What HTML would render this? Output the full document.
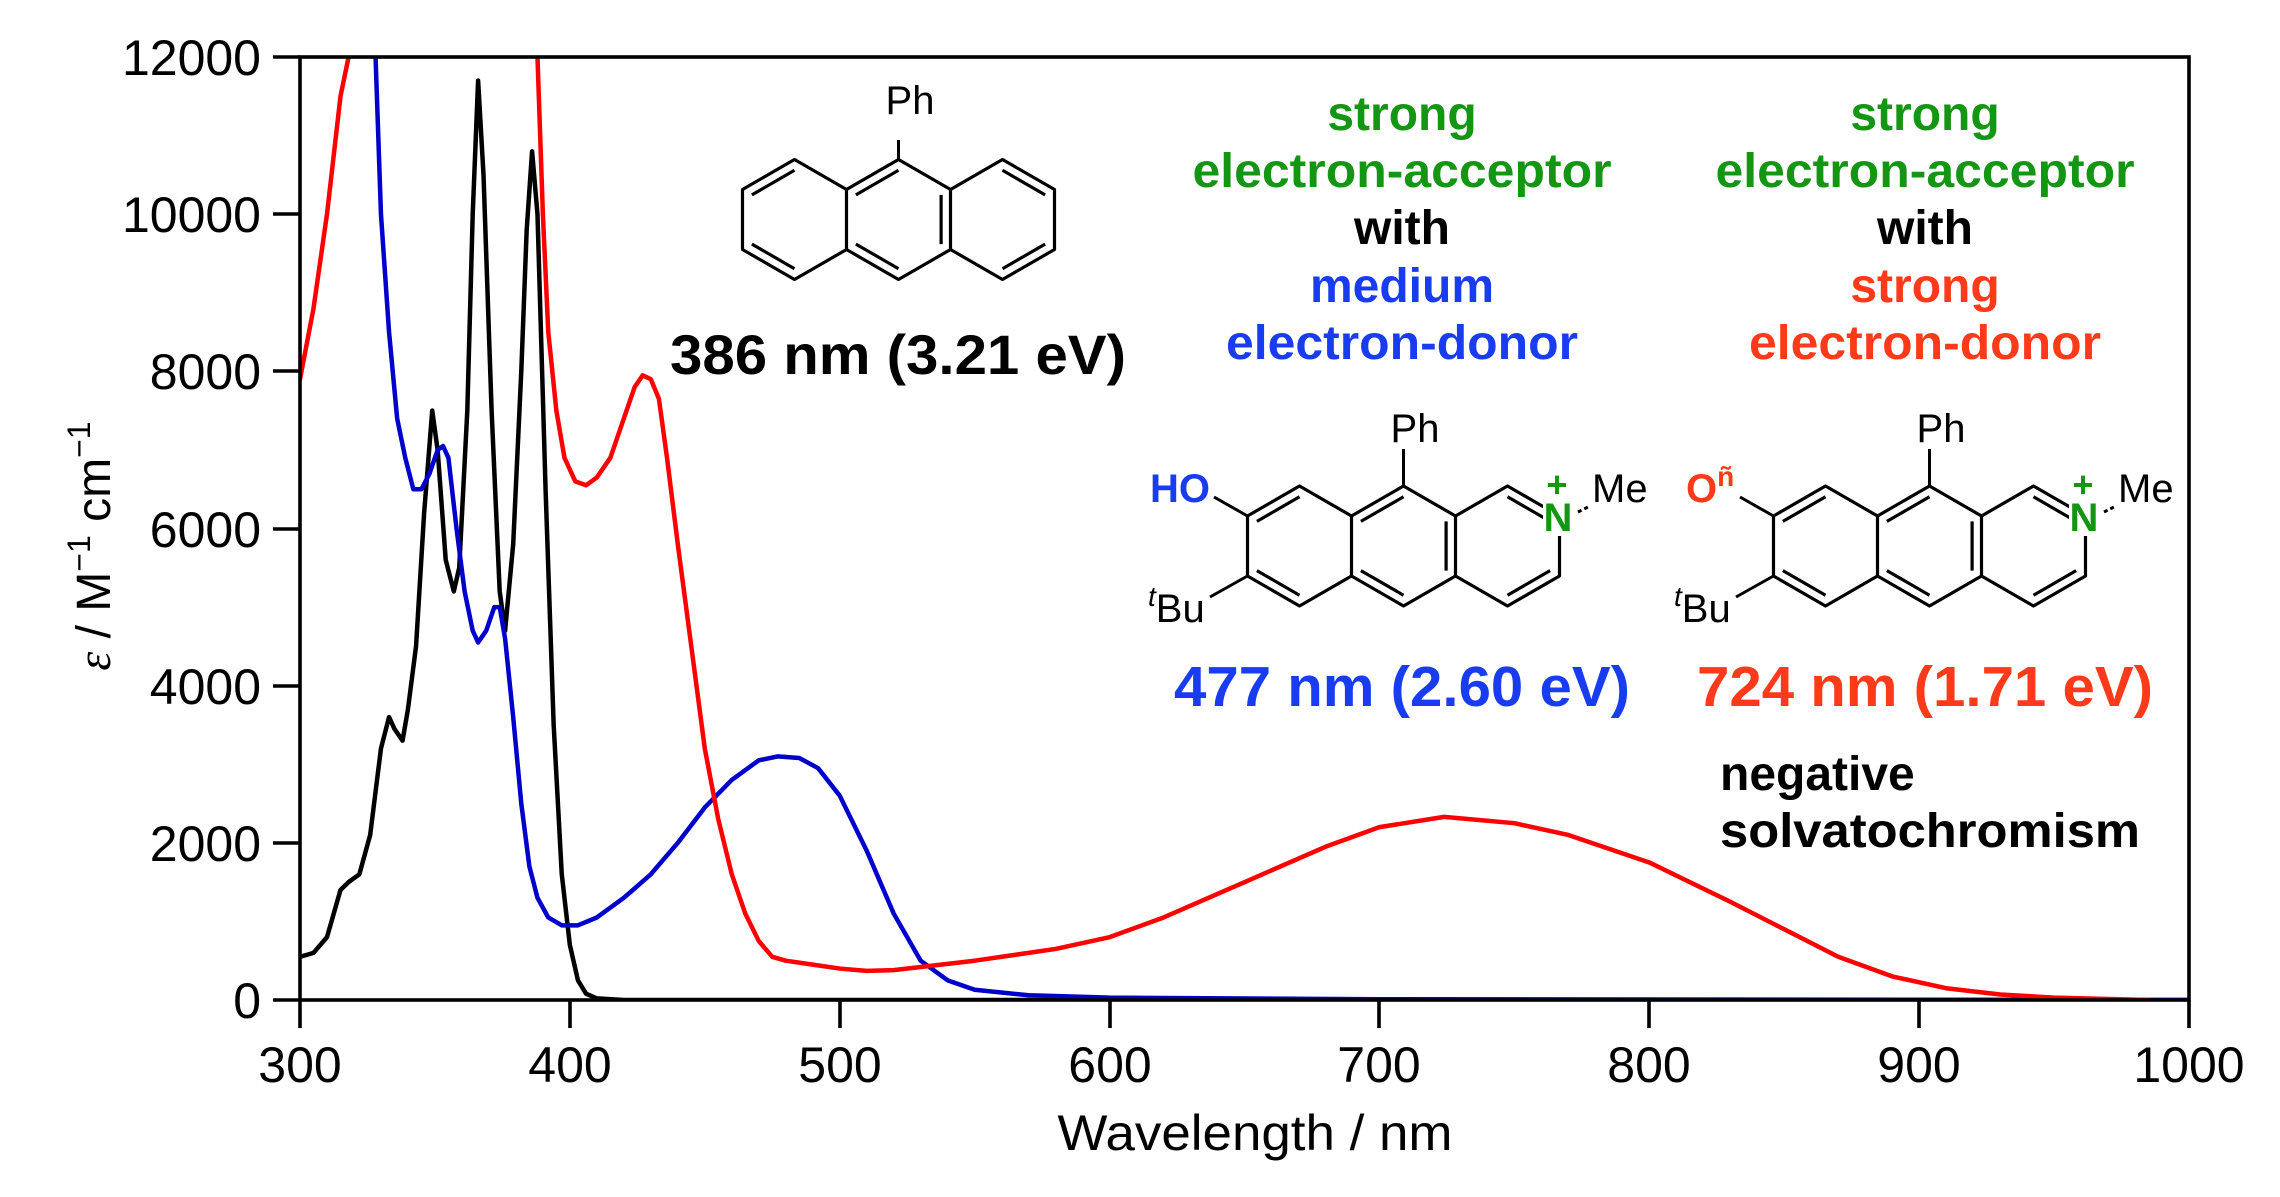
<!DOCTYPE html>
<html><head><meta charset="utf-8"><style>
html,body{margin:0;padding:0;background:#fff;}
svg{display:block;font-family:"Liberation Sans",sans-serif;}
</style></head><body>
<svg width="2280" height="1197" viewBox="0 0 2280 1197" xmlns="http://www.w3.org/2000/svg">
<defs>
<clipPath id="pc"><rect x="300" y="57" width="1889" height="943"/></clipPath>
<g id="tri" fill="none" stroke="#000" stroke-width="3.2" stroke-linejoin="round">
<path d="M-156,-30 L-104,-60 L-52,-30 L-52,30 L-104,60 L-156,30 Z M-52,-30 L0,-60 L52,-30 L52,30 L0,60 L-52,30 M52,-30 L104,-60 L156,-30 L156,30 L104,60 L52,30"/>
<path d="M-146.6,-24.6 L-104,-49.2 M-146.6,24.6 L-104,49.2 M-42.6,-24.6 L0,-49.2 M-42.6,24.6 L0,49.2 M42.6,-24.6 L42.6,24.6 M104,-49.2 L146.6,-24.6 M104,49.2 L146.6,24.6"/>
</g>
</defs>
<!-- data -->
<g clip-path="url(#pc)">
<g transform="translate(-509.58,1000) scale(2.6986,-0.07858)" fill="none" stroke-width="4.5" stroke-linejoin="round" stroke-linecap="round">
<polyline vector-effect="non-scaling-stroke" stroke="#000" points="300,550 305,600 310,800 315,1400 318,1500 322,1600 326,2100 330,3200 333,3600 335,3450 338,3300 340,3700 343,4500 346,6200 349,7500 351,7000 354,5600 357,5200 359,5500 362,7500 364,10000 366,11700 368,10500 371,7500 374,5200 376,4700 379,5800 382,8000 384,9800 386,10800 388,10000 391,6500 394,3500 397,1600 400,700 403,250 406,80 410,20 420,0 1000,0"/>
<polyline vector-effect="non-scaling-stroke" stroke="#0000cc" points="327,13000 328,12000 330,10000 333,8500 336,7400 339,6900 342,6500 345,6500 348,6700 351,7000 353,7050 355,6900 358,6000 361,5200 364,4700 366,4550 369,4700 372,5000 374,5000 376,4600 379,3600 382,2500 385,1700 388,1300 392,1050 397,950 403,950 410,1050 420,1300 430,1600 440,2000 450,2450 460,2800 470,3050 477,3100 485,3080 492,2950 500,2600 510,1900 520,1100 530,500 540,250 550,130 570,60 600,30 700,10 1000,0"/>
<polyline vector-effect="non-scaling-stroke" stroke="#ff0000" points="300,7900 305,8800 310,10000 315,11500 318,12000 319,13000"/>
<polyline vector-effect="non-scaling-stroke" stroke="#ff0000" points="387.5,13000 388,12000 390,10000 392,8500 395,7500 398,6900 402,6600 406,6550 410,6650 415,6900 420,7400 424,7800 427,7950 430,7900 433,7650 436,6900 440,5800 445,4500 450,3200 455,2300 460,1600 465,1100 470,750 475,550 480,500 490,450 500,400 510,370 520,380 530,420 550,500 580,650 600,800 620,1050 650,1500 680,1950 700,2200 724,2330 750,2250 770,2100 800,1750 830,1250 850,900 870,550 890,300 910,150 930,70 950,30 985,0"/>
</g>
</g>
<!-- axes -->
<g stroke="#000" stroke-width="3.6" fill="none">
<rect x="300" y="57" width="1889" height="943"/>
<path d="M300,1000 V1028 M570,1000 V1028 M840,1000 V1028 M1110,1000 V1028 M1379,1000 V1028 M1649,1000 V1028 M1919,1000 V1028 M2189,1000 V1028"/>
<path d="M300,57 H273 M300,214 H273 M300,371 H273 M300,529 H273 M300,686 H273 M300,843 H273 M300,1000 H273"/>
</g>
<g font-size="50" fill="#000" text-anchor="end">
<text x="261" y="75">12000</text><text x="261" y="232">10000</text><text x="261" y="389">8000</text><text x="261" y="547">6000</text><text x="261" y="704">4000</text><text x="261" y="861">2000</text><text x="261" y="1018">0</text>
</g>
<g font-size="50" fill="#000" text-anchor="middle">
<text x="300" y="1082">300</text><text x="570" y="1082">400</text><text x="840" y="1082">500</text><text x="1110" y="1082">600</text><text x="1379" y="1082">700</text><text x="1649" y="1082">800</text><text x="1919" y="1082">900</text><text x="2189" y="1082">1000</text>
<text x="1255" y="1150" textLength="395" lengthAdjust="spacingAndGlyphs">Wavelength / nm</text>
</g>
<text transform="translate(110,546) rotate(-90)" font-size="48" text-anchor="middle"><tspan font-style="italic" font-family="'Liberation Serif',serif">ε</tspan> / M<tspan font-size="32" dy="-20">−1</tspan><tspan dy="20"> cm</tspan><tspan font-size="32" dy="-20">−1</tspan></text>
<!-- anthracene -->
<use href="#tri" transform="translate(898.5,219.5)"/>
<path d="M898.5,159.5 V140" stroke="#000" stroke-width="3"/>
<text x="910" y="114" font-size="40" text-anchor="middle">Ph</text>
<text x="898" y="374" font-size="56" font-weight="bold" text-anchor="middle" textLength="456" lengthAdjust="spacingAndGlyphs">386 nm (3.21 eV)</text>
<!-- annotations -->
<g font-size="48" font-weight="bold" text-anchor="middle">
<text x="1402" y="130" fill="#149614">strong</text>
<text x="1402" y="187" fill="#149614" textLength="419" lengthAdjust="spacingAndGlyphs">electron-acceptor</text>
<text x="1402" y="244" fill="#000">with</text>
<text x="1402" y="302" fill="#1a3cf0">medium</text>
<text x="1402" y="359" fill="#1a3cf0" textLength="352" lengthAdjust="spacingAndGlyphs">electron-donor</text>
<text x="1925" y="130" fill="#149614">strong</text>
<text x="1925" y="187" fill="#149614" textLength="419" lengthAdjust="spacingAndGlyphs">electron-acceptor</text>
<text x="1925" y="244" fill="#000">with</text>
<text x="1925" y="302" fill="#ff3a1a">strong</text>
<text x="1925" y="359" fill="#ff3a1a" textLength="352" lengthAdjust="spacingAndGlyphs">electron-donor</text>
</g>
<g font-size="57" font-weight="bold" text-anchor="middle">
<text x="1402" y="706" fill="#1a3cf0" textLength="456" lengthAdjust="spacingAndGlyphs">477 nm (2.60 eV)</text>
<text x="1925" y="706" fill="#ff3a1a" textLength="456" lengthAdjust="spacingAndGlyphs">724 nm (1.71 eV)</text>
</g>
<g font-size="48" font-weight="bold" fill="#000">
<text x="1720" y="790">negative</text>
<text x="1720" y="847" textLength="420" lengthAdjust="spacingAndGlyphs">solvatochromism</text>
</g>
<!-- molecule 1 -->
<g>
<use href="#tri" transform="translate(1403.5,546)"/>
<path d="M1403.5,486 V449 M1247.5,516 L1214,497 M1247.5,576 L1210,597" stroke="#000" stroke-width="3"/>
<path d="M1578,512 L1590,506" stroke="#000" stroke-width="3" stroke-dasharray="4,3"/>
<rect x="1543" y="496" width="30" height="40" fill="#fff"/>
<text x="1415" y="442" font-size="40" text-anchor="middle">Ph</text>
<text x="1150" y="502" font-size="40" font-weight="bold" fill="#1a3cf0">HO</text>
<text x="1558" y="531" font-size="40" font-weight="bold" fill="#149614" text-anchor="middle">N</text>
<text x="1557" y="497" font-size="36" font-weight="bold" fill="#149614" text-anchor="middle">+</text>
<text x="1592" y="502" font-size="40">Me</text>
<text x="1148" y="622" font-size="40"><tspan font-style="italic" font-size="28" dy="-16">t</tspan><tspan dy="16">Bu</tspan></text>
</g>
<!-- molecule 2 -->
<g transform="translate(526,0)">
<use href="#tri" transform="translate(1403.5,546)"/>
<path d="M1403.5,486 V449 M1247.5,516 L1214,497 M1247.5,576 L1210,597" stroke="#000" stroke-width="3"/>
<path d="M1578,512 L1590,506" stroke="#000" stroke-width="3" stroke-dasharray="4,3"/>
<rect x="1543" y="496" width="30" height="40" fill="#fff"/>
<text x="1415" y="442" font-size="40" text-anchor="middle">Ph</text>
<text x="1160" y="502" font-size="40" font-weight="bold" fill="#ff3a1a">O<tspan font-size="28" dy="-16">ñ</tspan></text>
<text x="1558" y="531" font-size="40" font-weight="bold" fill="#149614" text-anchor="middle">N</text>
<text x="1557" y="497" font-size="36" font-weight="bold" fill="#149614" text-anchor="middle">+</text>
<text x="1592" y="502" font-size="40">Me</text>
<text x="1148" y="622" font-size="40"><tspan font-style="italic" font-size="28" dy="-16">t</tspan><tspan dy="16">Bu</tspan></text>
</g>
</svg>
</body></html>
